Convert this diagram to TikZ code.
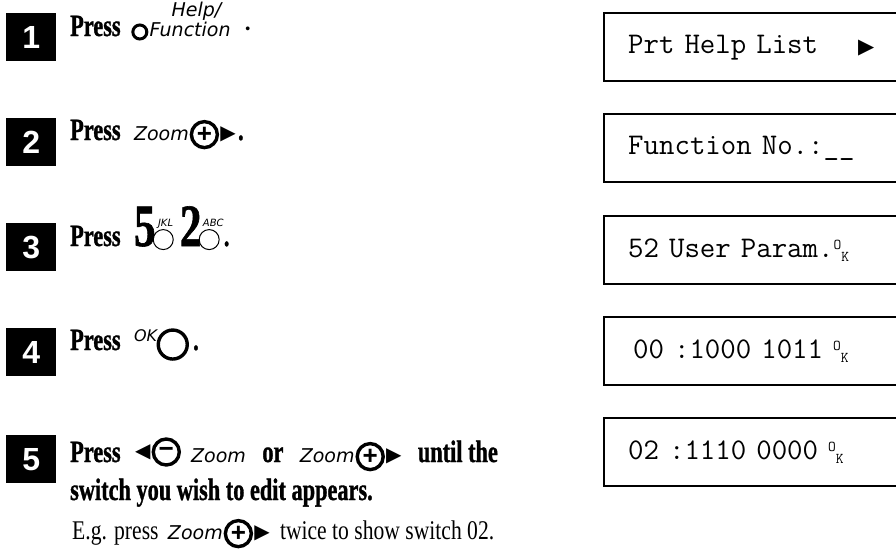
\documentclass[tikz,border=0pt]{standalone}
\usepackage{fontspec}
\setmainfont{Liberation Serif}
\newfontfamily\stepfont{Liberation Serif}[FakeStretch=0.72, BoldFeatures={FakeBold=1}]
\newfontfamily\notefont{Liberation Serif}[FakeStretch=0.8]
\newfontfamily\keyfont{DejaVu Sans}
\newfontfamily\numfont{Liberation Sans}
\newfontfamily\symfont{DejaVu Sans}
\usetikzlibrary{positioning}

% small O/K mark on the display
\newcommand\okmark{\raisebox{8pt}{\fontsize{15}{15}\selectfont O}\raisebox{-4pt}{\fontsize{15}{15}\selectfont K}}

\tikzset{
  stepnum/.style={fill=black, text=white, minimum width=50pt, minimum height=48pt,
    inner sep=0pt, anchor=north west, font=\numfont\bfseries\fontsize{32}{32}\selectfont},
  lcd/.style={draw, line width=2.4pt, anchor=north west, minimum height=68pt,
    text width=246pt, align=left, inner xsep=24pt, font=\ttfamily\fontsize{30}{30}\selectfont},
  press/.style={inner sep=0pt, anchor=base west, font=\stepfont\bfseries\fontsize{31}{33}\selectfont},
  note/.style={inner sep=0pt, anchor=base west, font=\notefont\fontsize{27}{29}\selectfont},
  keytext/.style={inner sep=0pt, anchor=base west, font=\keyfont\itshape\fontsize{19}{20}\selectfont},
  ring/.style={circle, draw, line width=3.4pt, minimum size=26pt, inner sep=0pt,
    font=\numfont\bfseries\fontsize{26}{26}\selectfont},
  pointer/.style={inner sep=0pt, font=\symfont\fontsize{20}{20}\selectfont},
  digitkey/.style={inner sep=0pt, anchor=base west, font=\stepfont\bfseries\fontsize{60}{60}\selectfont},
  keyring/.style={circle, draw, line width=1pt, minimum size=20pt, inner sep=0pt},
  tiny/.style={inner sep=0pt, anchor=base west, font=\keyfont\itshape\fontsize{10}{10}\selectfont}
}

\begin{document}
\begin{tikzpicture}[x=1pt,y=-1pt]
\useasboundingbox (0,0) rectangle (896,552);

% numbered squares
\foreach \n/\top in {1/13,2/118,3/223,4/328,5/435}
  \node[stepnum] (num\n) at (6,\top) {\n};

% display panels
\node[lcd] (lcd1) at (603,12)  {Prt Help List\hfill{\symfont\fontsize{21}{21}\selectfont ▶}\hspace*{-8pt}};
\node[lcd] (lcd2) at (603,113) {Function No.:\_\_};
\node[lcd] (lcd3) at (603,215) {52 User Param.\okmark};
\node[lcd] (lcd4) at (603,316) {\,00 :1000 1011 \okmark};
\node[lcd] (lcd5) at (603,417) {02 :1110 0000 \okmark};

% step 1
\node[press] (press1) at (70,36) {Press};
\node[ring, minimum size=14pt, line width=3pt, anchor=south west] (help) at ([xshift=13pt,yshift=-2pt]press1.base east) {};
\node[keytext] (func) at ([xshift=1pt]help.east |- press1.base) {Function};
\node[keytext] (helplbl) at ([xshift=22pt,yshift=20pt]func.base west) {Help/};
\node[inner sep=0pt, font=\numfont\fontsize{14}{14}\selectfont] (dot1) at ([xshift=17pt,yshift=6pt]func.base east) {•};

% step 2
\node[press] (press2) at (70,140) {Press};
\node[keytext] (zoom2) at ([xshift=13pt]press2.base east) {Zoom};
\node[ring, anchor=south west] (plus2) at ([xshift=5pt,yshift=-5pt]zoom2.base east) {+};
\node[pointer, right=1pt of plus2] (tri2) {▶};
\node[press] (dot2) at ([xshift=2pt]tri2.east |- press2.base) {.};

% step 3
\node[press] (press3) at (70,246) {Press};
\node[digitkey] (five) at ([xshift=13pt]press3.base east) {5};
\node[keyring, anchor=south west] (key5) at ([yshift=-1pt]five.base east) {};
\node[tiny] (jkl) at ([xshift=2pt,yshift=6pt]key5.north west) {JKL};
\node[digitkey] (two) at ([xshift=6pt]key5.east |- press3.base) {2};
\node[keyring, anchor=south west] (key2) at ([yshift=-1pt]two.base east) {};
\node[tiny] (abc) at ([xshift=1pt,yshift=6pt]key2.north west) {ABC};
\node[press] (dot3) at ([xshift=4pt]key2.east |- press3.base) {.};

% step 4
\node[press] (press4) at (70,350) {Press};
\node[keytext, font=\keyfont\itshape\fontsize{16}{16}\selectfont] (ok4) at ([xshift=13pt,yshift=9pt]press4.base east) {OK};
\node[ring, minimum size=29pt, anchor=south west] (btn4) at ([xshift=4pt,yshift=-6pt]ok4.east |- press4.base) {};
\node[press] (dot4) at ([xshift=4pt]btn4.east |- press4.base) {.};

% step 5
\node[press] (press5) at (70,462) {Press};
\node[pointer, anchor=west] (tri5l) at ([xshift=14pt,yshift=10pt]press5.base east) {◀};
\node[ring, right=1pt of tri5l] (minus5) {−};
\node[keytext] (zoom5a) at ([xshift=10pt]minus5.east |- press5.base) {Zoom};
\node[press] (or5) at ([xshift=16pt]zoom5a.base east) {or};
\node[keytext] (zoom5b) at ([xshift=16pt]or5.base east) {Zoom};
\node[ring, anchor=south west] (plus5) at ([xshift=5pt,yshift=-5pt]zoom5b.base east) {+};
\node[pointer, right=1pt of plus5] (tri5r) {▶};
\node[press] (until5) at ([xshift=16pt]tri5r.east |- press5.base) {until the};
\node[press] (line5) at (70,500) {switch you wish to edit appears.};
\node[note] (eg) at (72,539) {E.g. press};
\node[keytext] (zoom6) at ([xshift=9pt]eg.base east) {Zoom};
\node[ring, anchor=south west] (plus6) at ([xshift=5pt,yshift=-5pt]zoom6.base east) {+};
\node[pointer, right=1pt of plus6] (tri6) {▶};
\node[note] (twice) at ([xshift=10pt]tri6.east |- eg.base) {twice to show switch 02.};
\end{tikzpicture}
\end{document}
